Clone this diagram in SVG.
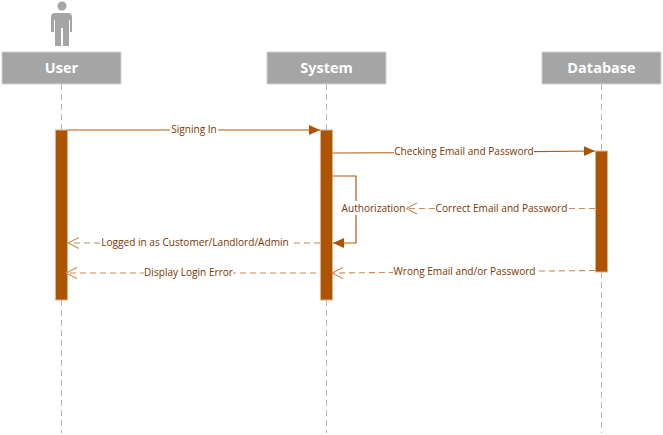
<svg xmlns="http://www.w3.org/2000/svg" width="663" height="435" viewBox="0 0 663 435">
<style>
.head{fill:#a5a5a5;stroke:#d4d4d4;stroke-width:1}
.title{font:bold 14.500px "Open Sans","Noto Sans",sans-serif;fill:#fff;text-anchor:middle}
.life{stroke:#b8b8b8;stroke-width:1;stroke-dasharray:6 4;fill:none}
.bar{fill:#ae5300;stroke:#d9b48f;stroke-width:1}
.solid{stroke:#ae5a10;stroke-width:1.2;fill:none}
.dash{stroke:#c98a50;stroke-width:1.1;stroke-dasharray:6 4;fill:none}
.lbl{font:10.100px "Open Sans","Noto Sans",sans-serif;fill:#7a3600;text-anchor:middle}
.bg{fill:#fff}
</style>
<defs>
<marker id="fill" markerUnits="userSpaceOnUse" markerWidth="12" markerHeight="12" refX="11" refY="5" orient="auto"><path d="M0 0L11 5L0 10Z" fill="#ae5300"/></marker>
<marker id="open" markerUnits="userSpaceOnUse" markerWidth="13" markerHeight="14" refX="11.500" refY="6" orient="auto"><path d="M0.500 0.500L11.500 6L0.500 11.500" fill="none" stroke="#c98a50" stroke-width="1.1"/></marker>
</defs>
<g id="lifelines">
<path class="life" d="M61.500 84V130M61.500 300V433"/>
<path class="life" d="M326.500 84V130M326.500 300V433"/>
<path class="life" d="M601.500 84V151M601.500 272V433"/>
</g>
<g id="actor-figure"><circle cx="62" cy="6" r="4.500" fill="#a5a5a5"/><path d="M51 17Q51 13 55 13H68Q72 13 72 17V32H70V20H69V46H63V28H61V46H55V20H54V32H51Z" fill="#a5a5a5"/></g>
<g id="user"><rect class="head" x="2" y="52" width="119" height="32"/><text class="title" x="61.500" y="73">User</text></g>
<g id="system"><rect class="head" x="267" y="52" width="119" height="32"/><text class="title" x="326.500" y="73">System</text></g>
<g id="database"><rect class="head" x="542" y="52" width="119" height="32"/><text class="title" x="601.500" y="73">Database</text></g>
<g id="activations">
<rect class="bar" x="55.500" y="130" width="12" height="170"/>
<rect class="bar" x="320.500" y="130" width="12" height="170"/>
<rect class="bar" x="595.500" y="151" width="12" height="121"/>
</g>
<g id="connectors">
<path class="solid" d="M67.500 130H320" marker-end="url(#fill)"/>
<path class="solid" d="M332.500 153L460 152.500L595 151" marker-end="url(#fill)"/>
<path class="solid" d="M332.500 176H356V243H333" marker-end="url(#fill)"/>
<path class="dash" d="M595 208.500H406" marker-end="url(#open)"/>
<path class="dash" d="M320 243H68" marker-end="url(#open)"/>
<path class="dash" d="M316 273H66" marker-end="url(#open)"/>
<path class="dash" d="M595 270.500L332 273" marker-end="url(#open)"/>
</g>
<g id="labels">
<rect class="bg" x="170" y="123" width="48" height="14"/><text class="lbl" x="194" y="133">Signing In</text>
<rect class="bg" x="394" y="145" width="140" height="14"/><text class="lbl" x="464" y="155">Checking Email and Password</text>
<rect class="bg" x="341" y="201" width="65" height="14"/><text class="lbl" x="373.500" y="212">Authorization</text>
<rect class="bg" x="436" y="201" width="131" height="14"/><text class="lbl" x="501.500" y="212">Correct Email and Password</text>
<rect class="bg" x="100" y="236" width="190" height="14"/><text class="lbl" x="195" y="246">Logged in as Customer/Landlord/Admin</text>
<rect class="bg" x="144" y="266" width="89" height="14"/><text class="lbl" x="188.500" y="276">Display Login Error</text>
<rect class="bg" x="393" y="264" width="143" height="14"/><text class="lbl" x="464.500" y="275">Wrong Email and/or Password</text>
</g>
</svg>
